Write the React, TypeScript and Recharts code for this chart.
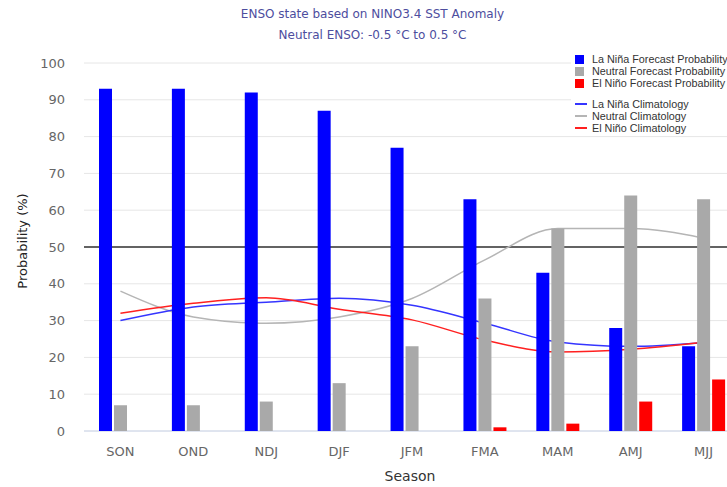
import React from 'react';
import { ComposedChart, Bar, Line, XAxis, YAxis, CartesianGrid, ReferenceLine, Label } from 'recharts';

const seasons = ['SON', 'OND', 'NDJ', 'DJF', 'JFM', 'FMA', 'MAM', 'AMJ', 'MJJ'];
const laNinaForecast = [93, 93, 92, 87, 77, 63, 43, 28, 23];
const neutralForecast = [7, 7, 8, 13, 23, 36, 55, 64, 63];
const elNinoForecast = [0, 0, 0, 0, 0, 1, 2, 8, 14];
const laNinaClim = [30, 33.7, 35, 36.1, 34.2, 29.3, 24.2, 23, 24];
const neutralClim = [38, 31, 29.3, 31, 36, 46.5, 55, 55, 52.4];
const elNinoClim = [32, 34.7, 36.2, 33.1, 30.2, 24.7, 21.5, 22.2, 24.1];
const yTicks = [0, 10, 20, 30, 40, 50, 60, 70, 80, 90, 100];
const titleLines = ['ENSO state based on NINO3.4 SST Anomaly', 'Neutral ENSO: -0.5 °C to 0.5 °C'];
const barLegend = [
  { label: 'La Niña Forecast Probability', color: '#0000ff' },
  { label: 'Neutral Forecast Probability', color: '#a9a9a9' },
  { label: 'El Niño Forecast Probability', color: '#ff0000' },
];
const lineLegend = [
  { label: 'La Niña Climatology', color: '#3535ff' },
  { label: 'Neutral Climatology', color: '#b5b5b5' },
  { label: 'El Niño Climatology', color: '#ff2020' },
];

const data = seasons.map((s, i) => ({
  season: s,
  laNina: laNinaForecast[i],
  neutral: neutralForecast[i],
  elNino: elNinoForecast[i],
  laNinaC: laNinaClim[i],
  neutralC: neutralClim[i],
  elNinoC: elNinoClim[i],
}));

const FONT = '"DejaVu Sans", Verdana, sans-serif';
const W = 760;
const H = 487;

export default function App() {
  return (
    <div style={{ position: 'absolute', left: 0, top: 0, width: 727, height: 487, overflow: 'hidden', background: '#fff', fontFamily: FONT }}>
      <div style={{ position: 'absolute', left: 0, top: 0, width: 745, textAlign: 'center', color: '#4d4d9e', fontSize: 12 }}>
        <div style={{ position: 'absolute', top: 7, width: '100%' }}>{titleLines[0]}</div>
        <div style={{ position: 'absolute', top: 28, width: '100%' }}>{titleLines[1]}</div>
      </div>
      {/* bottom layer: grid, axes, 50% line, climatology lines */}
      <div style={{ position: 'absolute', left: 0, top: 0 }}>
        <ComposedChart width={W} height={H} data={data} margin={{ top: 63, right: 20, bottom: 0, left: 0 }}>
          <CartesianGrid vertical={false} stroke="#e6e6e6" />
          <XAxis
            dataKey="season"
            scale="band"
            height={56}
            tickLine={false}
            tickSize={0}
            tickMargin={16}
            stroke="#ccd6eb"
            tick={{ fill: '#666', fontSize: 13, fontFamily: FONT }}
          >
            <Label
              content={({ viewBox }: any) => (
                <text x={410} y={viewBox.y + 50} textAnchor="middle" fill="#333" fontSize={14} fontFamily={FONT}>
                  Season
                </text>
              )}
            />
          </XAxis>
          <YAxis
            width={84}
            domain={[0, 100]}
            ticks={yTicks}
            axisLine={false}
            tickLine={false}
            tickSize={0}
            tickMargin={19}
            tick={{ fill: '#666', fontSize: 13, fontFamily: FONT }}
          >
            <Label
              content={({ viewBox }: any) => {
                const cy = viewBox.y + viewBox.height / 2 - 6;
                return (
                  <text x={27} y={cy} transform={`rotate(-90 27 ${cy})`} textAnchor="middle" fill="#222" fontSize={13} fontFamily={FONT}>
                    Probability (%)
                  </text>
                );
              }}
            />
          </YAxis>
          <ReferenceLine y={50} stroke="#333" strokeWidth={1.5} />
          <Line dataKey="neutralC" type="monotone" stroke={lineLegend[1].color} strokeWidth={1.5} dot={false} isAnimationActive={false} />
          <Line dataKey="laNinaC" type="monotone" stroke={lineLegend[0].color} strokeWidth={1.5} dot={false} isAnimationActive={false} />
          <Line dataKey="elNinoC" type="monotone" stroke={lineLegend[2].color} strokeWidth={1.5} dot={false} isAnimationActive={false} />
        </ComposedChart>
      </div>
      {/* top layer: forecast bars on the same scales */}
      <div style={{ position: 'absolute', left: 0, top: 0 }}>
        <ComposedChart width={W} height={H} data={data} margin={{ top: 63, right: 20, bottom: 56, left: 84 }} barGap={2}>
          <XAxis dataKey="season" hide />
          <YAxis domain={[0, 100]} ticks={yTicks} hide />
          <Bar dataKey="laNina" fill={barLegend[0].color} barSize={13} isAnimationActive={false} />
          <Bar dataKey="neutral" fill={barLegend[1].color} barSize={13} isAnimationActive={false} />
          <Bar dataKey="elNino" fill={barLegend[2].color} barSize={13} isAnimationActive={false} />
        </ComposedChart>
      </div>
      <div style={{ position: 'absolute', left: 571, top: 50, width: 160, height: 83, background: '#fff', fontFamily: '"Liberation Sans", Arial, sans-serif', fontSize: 10.8, color: '#333' }}>
        {barLegend.map((item, i) => (
          <div key={item.label} style={{ position: 'absolute', left: 0, top: 3 + i * 12, height: 12, display: 'flex', alignItems: 'center', whiteSpace: 'nowrap' }}>
            <span style={{ display: 'inline-block', width: 9, height: 9, background: item.color, marginLeft: 4, marginRight: 8 }} />
            <span>{item.label}</span>
          </div>
        ))}
        {lineLegend.map((item, i) => (
          <div key={item.label} style={{ position: 'absolute', left: 0, top: 48 + i * 12, height: 12, display: 'flex', alignItems: 'center', whiteSpace: 'nowrap' }}>
            <span style={{ display: 'inline-block', width: 12, height: 1.5, background: item.color, marginLeft: 4, marginRight: 5 }} />
            <span>{item.label}</span>
          </div>
        ))}
      </div>
    </div>
  );
}
